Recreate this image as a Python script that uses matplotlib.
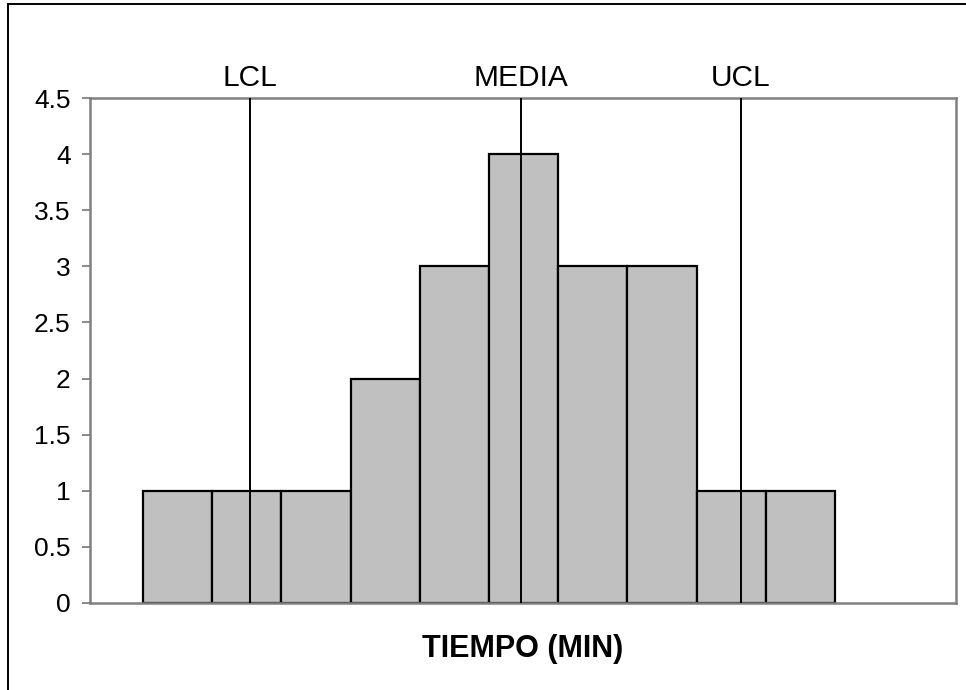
import matplotlib
matplotlib.use("Agg")
import matplotlib.pyplot as plt
from matplotlib.patches import Rectangle
from matplotlib.ticker import FuncFormatter

# Histogram of times (class intervals by index) with control limits
bins = [0, 1, 2, 3, 4, 5, 6, 7, 8, 9]
freq = [1, 1, 1, 2, 3, 4, 3, 3, 1, 1]
limit_names = ["LCL", "MEDIA", "UCL"]
limit_pos = [1.046, 4.962, 8.142]
y_ticks = [0, 0.5, 1, 1.5, 2, 2.5, 3, 3.5, 4, 4.5]
x_title = "TIEMPO (MIN)"

plt.rcParams["font.family"] = ["Liberation Sans", "DejaVu Sans"]

fig = plt.figure(figsize=(9.66, 6.9), dpi=100)
ax = fig.add_axes([90 / 966, 87 / 690, 866 / 966, 505 / 690])

ax.bar(bins, freq, width=1.0, color="#C0C0C0", edgecolor="black",
       linewidth=1.6, zorder=2)

for name, xp in zip(limit_names, limit_pos):
    ax.axvline(xp, color="black", linewidth=1.4, zorder=3)
    ax.text(xp, 1.012, name, transform=ax.get_xaxis_transform(),
            ha="center", va="bottom", fontsize=21.5)

ax.set_xlim(-1.266, 11.25)
ax.set_ylim(0, 4.5)
ax.set_yticks(y_ticks)
ax.yaxis.set_major_formatter(FuncFormatter(lambda v, p: f"{v:g}"))
ax.set_xticks([])

for s in ax.spines.values():
    s.set_color("#808080")
    s.set_linewidth(1.8)
ax.tick_params(axis="y", direction="out", length=6, width=1.3,
               color="#808080", labelsize=19, labelcolor="black", pad=8)

ax.set_xlabel(x_title, fontsize=22, fontweight="bold", labelpad=22)

# outer chart frame
fig.patches.append(Rectangle((8 / 966, -0.05), 1.1, 0.05 + 1 - 4 / 690,
                             transform=fig.transFigure, fill=False,
                             edgecolor="black", linewidth=1.4))

fig.savefig("out.png", dpi=100)
